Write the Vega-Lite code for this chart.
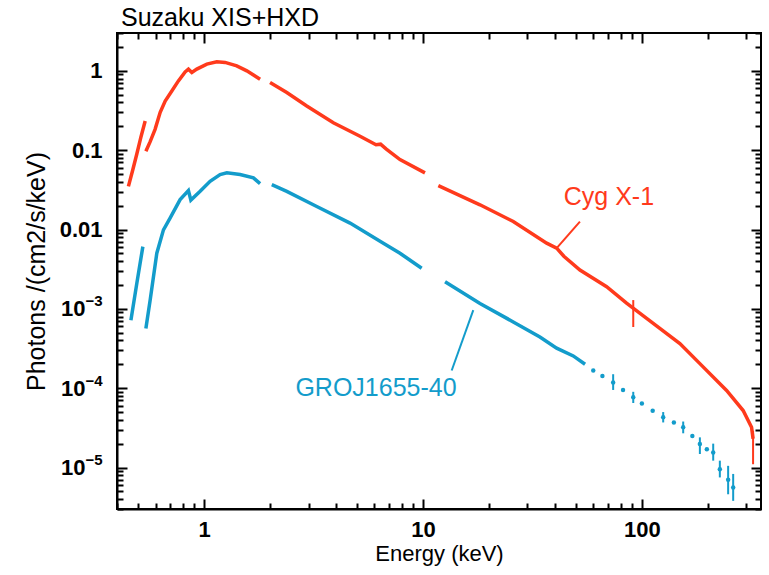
{
  "$schema": "https://vega.github.io/schema/vega-lite/v6.json",
  "width": 644,
  "height": 476,
  "autosize": "none",
  "padding": {"left": 117, "top": 33, "right": 8, "bottom": 66},
  "background": "white",
  "config": {
    "view": {"stroke": "black", "strokeWidth": 2},
    "font": "Liberation Sans"
  },
  "title": {"text": "Suzaku XIS+HXD", "anchor": "start", "frame": "group", "font": "Liberation Sans", "fontSize": 25, "fontWeight": "normal", "color": "black", "offset": 1, "dx": 4},
  "datasets": {
    "spec": [
      {"src": "Cyg X-1", "seg": "r1", "E": 0.451, "F": 0.035},
      {"src": "Cyg X-1", "seg": "r1", "E": 0.472, "F": 0.0562},
      {"src": "Cyg X-1", "seg": "r1", "E": 0.493, "F": 0.0903},
      {"src": "Cyg X-1", "seg": "r1", "E": 0.514, "F": 0.145},
      {"src": "Cyg X-1", "seg": "r1", "E": 0.538, "F": 0.233},
      {"src": "Cyg X-1", "seg": "r2", "E": 0.542, "F": 0.0971},
      {"src": "Cyg X-1", "seg": "r2", "E": 0.567, "F": 0.128},
      {"src": "Cyg X-1", "seg": "r2", "E": 0.597, "F": 0.183},
      {"src": "Cyg X-1", "seg": "r2", "E": 0.63, "F": 0.3},
      {"src": "Cyg X-1", "seg": "r2", "E": 0.664, "F": 0.417},
      {"src": "Cyg X-1", "seg": "r2", "E": 0.712, "F": 0.558},
      {"src": "Cyg X-1", "seg": "r2", "E": 0.763, "F": 0.747},
      {"src": "Cyg X-1", "seg": "r2", "E": 0.819, "F": 0.971},
      {"src": "Cyg X-1", "seg": "r2", "E": 0.848, "F": 1.051},
      {"src": "Cyg X-1", "seg": "r2", "E": 0.879, "F": 0.954},
      {"src": "Cyg X-1", "seg": "r2", "E": 0.926, "F": 1.051},
      {"src": "Cyg X-1", "seg": "r2", "E": 1.029, "F": 1.216},
      {"src": "Cyg X-1", "seg": "r2", "E": 1.143, "F": 1.3},
      {"src": "Cyg X-1", "seg": "r2", "E": 1.247, "F": 1.277},
      {"src": "Cyg X-1", "seg": "r2", "E": 1.41, "F": 1.157},
      {"src": "Cyg X-1", "seg": "r2", "E": 1.567, "F": 1.0},
      {"src": "Cyg X-1", "seg": "r2", "E": 1.802, "F": 0.785},
      {"src": "Cyg X-1", "seg": "r3", "E": 2.001, "F": 0.713},
      {"src": "Cyg X-1", "seg": "r3", "E": 2.386, "F": 0.533},
      {"src": "Cyg X-1", "seg": "r3", "E": 2.944, "F": 0.361},
      {"src": "Cyg X-1", "seg": "r3", "E": 3.894, "F": 0.222},
      {"src": "Cyg X-1", "seg": "r3", "E": 5.157, "F": 0.15},
      {"src": "Cyg X-1", "seg": "r3", "E": 6.1, "F": 0.117},
      {"src": "Cyg X-1", "seg": "r3", "E": 6.4, "F": 0.119},
      {"src": "Cyg X-1", "seg": "r3", "E": 6.8, "F": 0.103},
      {"src": "Cyg X-1", "seg": "r3", "E": 7.85, "F": 0.0762},
      {"src": "Cyg X-1", "seg": "r3", "E": 10.21, "F": 0.0518},
      {"src": "Cyg X-1", "seg": "r4", "E": 11.75, "F": 0.0357},
      {"src": "Cyg X-1", "seg": "r4", "E": 18.21, "F": 0.0205},
      {"src": "Cyg X-1", "seg": "r4", "E": 25.84, "F": 0.01263},
      {"src": "Cyg X-1", "seg": "r4", "E": 36.72, "F": 0.00673},
      {"src": "Cyg X-1", "seg": "r4", "E": 40.8, "F": 0.00582},
      {"src": "Cyg X-1", "seg": "r4", "E": 44.0, "F": 0.0046},
      {"src": "Cyg X-1", "seg": "r4", "E": 52.12, "F": 0.00309},
      {"src": "Cyg X-1", "seg": "r4", "E": 69.0, "F": 0.0019},
      {"src": "Cyg X-1", "seg": "r4", "E": 85.1, "F": 0.00118},
      {"src": "Cyg X-1", "seg": "r4", "E": 105.1, "F": 0.00076},
      {"src": "Cyg X-1", "seg": "r4", "E": 149.1, "F": 0.000365},
      {"src": "Cyg X-1", "seg": "r4", "E": 184.0, "F": 0.000204},
      {"src": "Cyg X-1", "seg": "r4", "E": 243.7, "F": 0.0000935},
      {"src": "Cyg X-1", "seg": "r4", "E": 290.1, "F": 0.0000522},
      {"src": "Cyg X-1", "seg": "r4", "E": 316.9, "F": 0.0000321},
      {"src": "Cyg X-1", "seg": "r4", "E": 322.0, "F": 0.000023},
      {"src": "GROJ1655-40", "seg": "b1", "E": 0.463, "F": 0.000719},
      {"src": "GROJ1655-40", "seg": "b1", "E": 0.493, "F": 0.00212},
      {"src": "GROJ1655-40", "seg": "b1", "E": 0.525, "F": 0.00609},
      {"src": "GROJ1655-40", "seg": "b2", "E": 0.542, "F": 0.000565},
      {"src": "GROJ1655-40", "seg": "b2", "E": 0.567, "F": 0.00129},
      {"src": "GROJ1655-40", "seg": "b2", "E": 0.608, "F": 0.00503},
      {"src": "GROJ1655-40", "seg": "b2", "E": 0.652, "F": 0.00991},
      {"src": "GROJ1655-40", "seg": "b2", "E": 0.699, "F": 0.01394},
      {"src": "GROJ1655-40", "seg": "b2", "E": 0.777, "F": 0.0238},
      {"src": "GROJ1655-40", "seg": "b2", "E": 0.848, "F": 0.031},
      {"src": "GROJ1655-40", "seg": "b2", "E": 0.87, "F": 0.0235},
      {"src": "GROJ1655-40", "seg": "b2", "E": 0.959, "F": 0.0303},
      {"src": "GROJ1655-40", "seg": "b2", "E": 1.065, "F": 0.0405},
      {"src": "GROJ1655-40", "seg": "b2", "E": 1.183, "F": 0.0493},
      {"src": "GROJ1655-40", "seg": "b2", "E": 1.27, "F": 0.0518},
      {"src": "GROJ1655-40", "seg": "b2", "E": 1.46, "F": 0.0493},
      {"src": "GROJ1655-40", "seg": "b2", "E": 1.68, "F": 0.0447},
      {"src": "GROJ1655-40", "seg": "b2", "E": 1.802, "F": 0.0379},
      {"src": "GROJ1655-40", "seg": "b3", "E": 2.038, "F": 0.0368},
      {"src": "GROJ1655-40", "seg": "b3", "E": 2.386, "F": 0.0303},
      {"src": "GROJ1655-40", "seg": "b3", "E": 3.271, "F": 0.0195},
      {"src": "GROJ1655-40", "seg": "b3", "E": 4.642, "F": 0.01205},
      {"src": "GROJ1655-40", "seg": "b3", "E": 6.59, "F": 0.00673},
      {"src": "GROJ1655-40", "seg": "b3", "E": 7.85, "F": 0.00503},
      {"src": "GROJ1655-40", "seg": "b3", "E": 9.86, "F": 0.00325},
      {"src": "GROJ1655-40", "seg": "b4", "E": 12.61, "F": 0.0022},
      {"src": "GROJ1655-40", "seg": "b4", "E": 18.21, "F": 0.00117},
      {"src": "GROJ1655-40", "seg": "b4", "E": 25.84, "F": 0.000684},
      {"src": "GROJ1655-40", "seg": "b4", "E": 34.21, "F": 0.000442},
      {"src": "GROJ1655-40", "seg": "b4", "E": 40.78, "F": 0.00032},
      {"src": "GROJ1655-40", "seg": "b4", "E": 48.57, "F": 0.000255},
      {"src": "GROJ1655-40", "seg": "b4", "E": 55.0, "F": 0.0002},
      {"src": "GROJ1655-40", "seg": "b5", "E": 59.94, "F": 0.000167},
      {"src": "GROJ1655-40", "seg": "b5", "E": 66.0, "F": 0.000142},
      {"src": "GROJ1655-40", "seg": "b5", "E": 73.9, "F": 0.000118},
      {"src": "GROJ1655-40", "seg": "b5", "E": 82.0, "F": 0.000095},
      {"src": "GROJ1655-40", "seg": "b5", "E": 91.3, "F": 0.0000769},
      {"src": "GROJ1655-40", "seg": "b5", "E": 100.0, "F": 0.000064},
      {"src": "GROJ1655-40", "seg": "b5", "E": 112.0, "F": 0.000052},
      {"src": "GROJ1655-40", "seg": "b5", "E": 125.1, "F": 0.000043},
      {"src": "GROJ1655-40", "seg": "b5", "E": 140.0, "F": 0.000037},
      {"src": "GROJ1655-40", "seg": "b5", "E": 154.4, "F": 0.0000321},
      {"src": "GROJ1655-40", "seg": "b5", "E": 170.0, "F": 0.000025},
      {"src": "GROJ1655-40", "seg": "b5", "E": 184.0, "F": 0.0000198},
      {"src": "GROJ1655-40", "seg": "b5", "E": 198.0, "F": 0.000017},
      {"src": "GROJ1655-40", "seg": "b5", "E": 211.7, "F": 0.0000155},
      {"src": "GROJ1655-40", "seg": "b5", "E": 227.0, "F": 0.0000095},
      {"src": "GROJ1655-40", "seg": "b5", "E": 247.7, "F": 0.000007},
      {"src": "GROJ1655-40", "seg": "b5", "E": 261.2, "F": 0.0000056}
    ],
    "err": [
      {"src": "GROJ1655-40", "E": 73.9, "lo": 0.000095, "hi": 0.00015},
      {"src": "GROJ1655-40", "E": 91.3, "lo": 0.000065, "hi": 0.00009},
      {"src": "GROJ1655-40", "E": 125.1, "lo": 0.000037, "hi": 0.00005},
      {"src": "GROJ1655-40", "E": 154.4, "lo": 0.000027, "hi": 0.000038},
      {"src": "GROJ1655-40", "E": 184.0, "lo": 0.0000148, "hi": 0.000024},
      {"src": "GROJ1655-40", "E": 211.7, "lo": 0.0000122, "hi": 0.00002},
      {"src": "GROJ1655-40", "E": 227.0, "lo": 0.0000075, "hi": 0.0000122},
      {"src": "GROJ1655-40", "E": 247.7, "lo": 0.0000046, "hi": 0.0000105},
      {"src": "GROJ1655-40", "E": 261.2, "lo": 0.0000038, "hi": 0.0000083},
      {"src": "Cyg X-1", "E": 91.3, "lo": 0.00059, "hi": 0.00129},
      {"src": "Cyg X-1", "E": 322.0, "lo": 0.000011, "hi": 0.000029}
    ],
    "labels": [
      {"src": "Cyg X-1", "E": 70.7, "F": 0.0259, "E1": 52.1, "F1": 0.0126, "E2": 40.8, "F2": 0.00582},
      {"src": "GROJ1655-40", "E": 6.1, "F": 0.000102, "E1": 16.97, "F1": 0.000963, "E2": 13.52, "F2": 0.000167}
    ]
  },
  "resolve": {"axis": {"x": "independent", "y": "independent"}},
  "layer": [
    {
      "data": {"name": "spec"},
      "transform": [{"filter": "datum.seg != 'b5'"}],
      "mark": {"type": "line", "strokeWidth": 3.5, "clip": true},
      "encoding": {
        "x": {"field": "E", "type": "quantitative",
          "scale": {"type": "log", "domain": [0.4, 350], "nice": false},
          "axis": {"orient": "bottom", "values": [1, 10, 100], "ticks": false,
            "labelExpr": "datum.value == 1 ? '1' : datum.value == 10 ? '10' : '100'",
            "domainColor": "black", "domainWidth": 2, "grid": false,
            "labelFont": "Liberation Sans", "labelFontWeight": "bold", "labelFontSize": 22, "labelColor": "black", "labelPadding": 10,
            "labelOverlap": false, "labelFlush": false, "labelBound": false,
            "title": "Energy (keV)", "titleFont": "Liberation Sans", "titleFontWeight": "normal", "titleFontSize": 22, "titleColor": "black", "titlePadding": 3}},
        "y": {"field": "F", "type": "quantitative",
          "scale": {"type": "log", "domain": [0.000003, 3], "nice": false},
          "axis": {"orient": "left", "values": [0.00001, 0.0001, 0.001, 0.01, 0.1, 1], "ticks": false,
            "labelExpr": "datum.value == 1 ? '1' : datum.value == 0.1 ? '0.1' : datum.value == 0.01 ? '0.01' : '10'",
            "labelPadding": {"condition": {"test": "datum.value < 0.005", "value": 32}, "value": 15},
            "domainColor": "black", "domainWidth": 2, "grid": false,
            "labelFont": "Liberation Sans", "labelFontWeight": "bold", "labelFontSize": 22, "labelColor": "black",
            "labelOverlap": false, "labelBound": false, "labelFlush": false,
            "title": "Photons /(cm2/s/keV)", "titleFont": "Liberation Sans", "titleFontWeight": "normal", "titleFontSize": 25, "titleColor": "black", "titlePadding": 10}},
        "color": {"field": "src", "type": "nominal", "scale": {"domain": ["Cyg X-1", "GROJ1655-40"], "range": ["#ff3a1c", "#139ccb"]}, "legend": null},
        "detail": {"field": "seg", "type": "nominal"}
      }
    },
    {
      "data": {"name": "spec"},
      "transform": [{"filter": "datum.seg == 'b5'"}],
      "mark": {"type": "point", "filled": true, "size": 20, "opacity": 1, "clip": true},
      "encoding": {
        "x": {"field": "E", "type": "quantitative",
          "axis": {"orient": "bottom", "values": [1, 10, 100], "labels": false, "domain": false, "grid": true, "gridColor": "white", "gridWidth": 0.01, "title": null, "ticks": true, "tickSize": 10, "offset": -10, "tickWidth": 2, "tickColor": "black"}},
        "y": {"field": "F", "type": "quantitative",
          "axis": {"orient": "left", "values": [0.00001, 0.0001, 0.001, 0.01, 0.1, 1], "labels": false, "domain": false, "grid": true, "gridColor": "white", "gridWidth": 0.01, "title": null, "ticks": true, "tickSize": 10, "offset": -10, "tickWidth": 2, "tickColor": "black"}},
        "color": {"field": "src", "type": "nominal", "legend": null}
      }
    },
    {
      "data": {"name": "err"},
      "mark": {"type": "rule", "strokeWidth": 2, "clip": true},
      "encoding": {
        "x": {"field": "E", "type": "quantitative",
          "axis": {"orient": "bottom", "values": [0.4,0.5,0.6,0.7,0.8,0.9,2,3,4,5,6,7,8,9,20,30,40,50,60,70,80,90,200,300], "labels": false, "domain": false, "grid": true, "gridColor": "white", "gridWidth": 0.01, "title": null, "ticks": true, "tickSize": 6, "offset": -6, "tickWidth": 2, "tickColor": "black"}},
        "y": {"field": "lo", "type": "quantitative",
          "axis": {"orient": "left", "values": [0.000003,0.000004,0.000005,0.000006,0.000007,0.000008,0.000009,0.00002,0.00003,0.00004,0.00005,0.00006,0.00007,0.00008,0.00009,0.0002,0.0003,0.0004,0.0005,0.0006,0.0007,0.0008,0.0009,0.002,0.003,0.004,0.005,0.006,0.007,0.008,0.009,0.02,0.03,0.04,0.05,0.06,0.07,0.08,0.09,0.2,0.3,0.4,0.5,0.6,0.7,0.8,0.9,2,3], "labels": false, "domain": false, "grid": true, "gridColor": "white", "gridWidth": 0.01, "title": null, "ticks": true, "tickSize": 6, "offset": -6, "tickWidth": 2, "tickColor": "black"}},
        "y2": {"field": "hi"},
        "color": {"field": "src", "type": "nominal", "legend": null}
      }
    },
    {
      "data": {"name": "labels"},
      "mark": {"type": "text", "font": "Liberation Sans", "fontSize": 25, "align": "center", "baseline": "middle"},
      "encoding": {
        "x": {"field": "E", "type": "quantitative",
          "axis": {"orient": "top", "values": [1, 10, 100], "labels": false, "domain": false, "grid": true, "gridColor": "white", "gridWidth": 0.01, "title": null, "ticks": true, "tickSize": 10, "offset": -10, "tickWidth": 2, "tickColor": "black"}},
        "y": {"field": "F", "type": "quantitative",
          "axis": {"orient": "right", "values": [0.00001, 0.0001, 0.001, 0.01, 0.1, 1], "labels": false, "domain": false, "grid": true, "gridColor": "white", "gridWidth": 0.01, "title": null, "ticks": true, "tickSize": 10, "offset": -10, "tickWidth": 2, "tickColor": "black"}},
        "text": {"field": "src"},
        "color": {"field": "src", "type": "nominal", "legend": null}
      }
    },
    {
      "data": {"name": "labels"},
      "mark": {"type": "rule", "strokeWidth": 2},
      "encoding": {
        "x": {"field": "E1", "type": "quantitative",
          "axis": {"orient": "top", "values": [0.4,0.5,0.6,0.7,0.8,0.9,2,3,4,5,6,7,8,9,20,30,40,50,60,70,80,90,200,300], "labels": false, "domain": false, "grid": true, "gridColor": "white", "gridWidth": 0.01, "title": null, "ticks": true, "tickSize": 6, "offset": -6, "tickWidth": 2, "tickColor": "black"}},
        "y": {"field": "F1", "type": "quantitative",
          "axis": {"orient": "right", "values": [0.000003,0.000004,0.000005,0.000006,0.000007,0.000008,0.000009,0.00002,0.00003,0.00004,0.00005,0.00006,0.00007,0.00008,0.00009,0.0002,0.0003,0.0004,0.0005,0.0006,0.0007,0.0008,0.0009,0.002,0.003,0.004,0.005,0.006,0.007,0.008,0.009,0.02,0.03,0.04,0.05,0.06,0.07,0.08,0.09,0.2,0.3,0.4,0.5,0.6,0.7,0.8,0.9,2,3], "labels": false, "domain": false, "grid": true, "gridColor": "white", "gridWidth": 0.01, "title": null, "ticks": true, "tickSize": 6, "offset": -6, "tickWidth": 2, "tickColor": "black"}},
        "x2": {"field": "E2"},
        "y2": {"field": "F2"},
        "color": {"field": "src", "type": "nominal", "legend": null}
      }
    },
    {
      "data": {"name": "err"},
      "mark": {"type": "point", "opacity": 0},
      "encoding": {
        "x": {"field": "E", "type": "quantitative", "axis": null},
        "y": {"field": "lo", "type": "quantitative",
          "axis": {"orient": "left", "values": [0.00001, 0.0001, 0.001], "ticks": false, "domain": false, "grid": false, "title": null,
            "labelExpr": "datum.value == 0.001 ? '−3' : datum.value == 0.0001 ? '−4' : '−5'",
            "labelFont": "Liberation Sans", "labelFontWeight": "bold", "labelFontSize": 15, "labelColor": "black",
            "labelPadding": 15, "labelOffset": -8, "labelOverlap": false, "labelBound": false, "labelFlush": false}}
      }
    }
  ]
}
